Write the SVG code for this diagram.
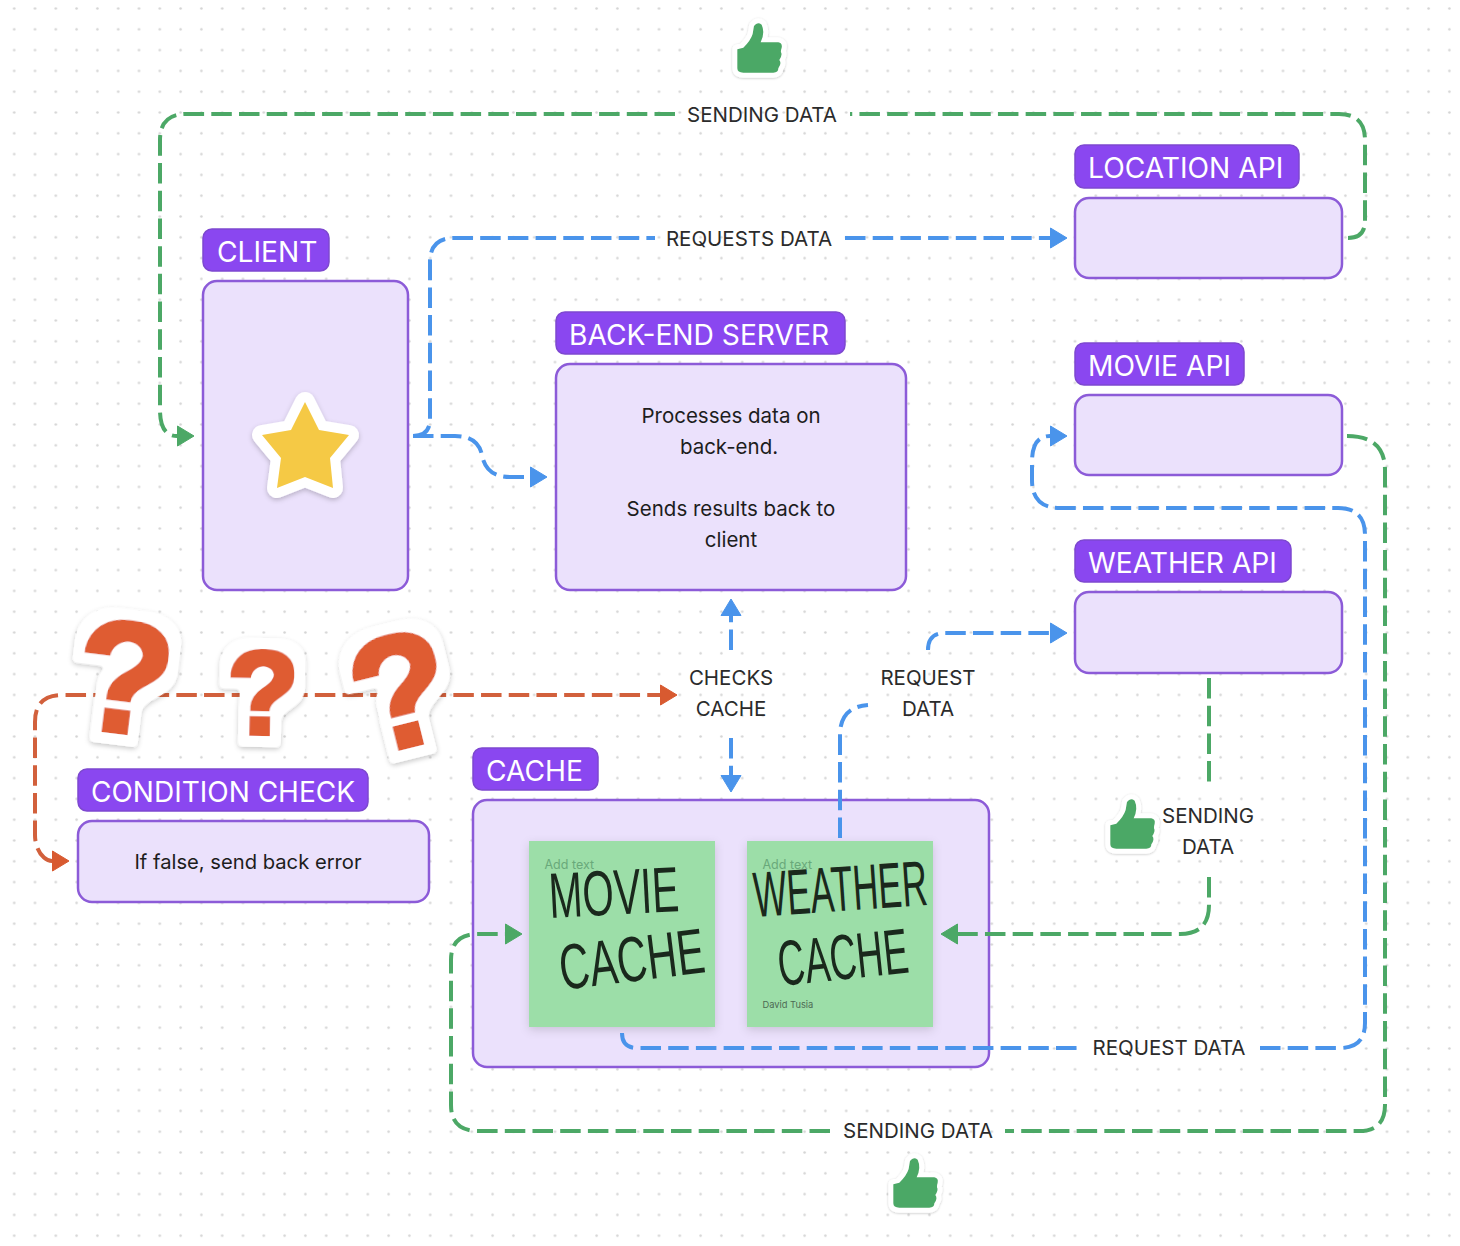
<svg xmlns="http://www.w3.org/2000/svg" width="1460" height="1246" viewBox="0 0 1460 1246">
<style>
text{font-family:Inter,"Liberation Sans",sans-serif}
.box{fill:#ebe1fc;stroke:#8c5bd8;stroke-width:2.5}
.tag{fill:#8a47f0;stroke:#7d48d0;stroke-width:1.5}
.tagt{fill:#fff;font-size:28.2px}
.lab{fill:#2b2b2b;font-size:20.5px;text-anchor:middle}
.body{fill:#1d1d1d;font-size:20.5px;text-anchor:middle}
.c{fill:none;stroke-width:4;stroke-dasharray:20.5 7.2}
.g{stroke:#4ca866}.b{stroke:#4a94eb}.o{stroke:#d2603c}
.sticky{fill:#9cdea8;filter:url(#softer)}
.hand{fill:#1a281c;font-family:"Liberation Sans",sans-serif;font-size:64px}
.add{fill:#69a97a;font-size:12.5px}
.q{fill:#df5c30;font-family:"Liberation Sans",sans-serif;font-weight:700;text-anchor:middle;filter:url(#qf)}
</style>
<defs>
<pattern id="dots" x="3.8" y="-1.9" width="20.8" height="20.8" patternUnits="userSpaceOnUse"><circle cx="10.4" cy="10.4" r="1.25" fill="#d4d4d4"/></pattern>
<filter id="shadow" x="-30%" y="-30%" width="160%" height="160%"><feDropShadow dx="0" dy="2" stdDeviation="2.5" flood-color="#000" flood-opacity=".22"/></filter>
<filter id="softer" x="-20%" y="-20%" width="140%" height="140%"><feDropShadow dx="0" dy="3" stdDeviation="5" flood-color="#000" flood-opacity=".14"/></filter>
<filter id="qf" x="-60%" y="-40%" width="220%" height="180%">
<feMorphology in="SourceAlpha" operator="dilate" radius="1.8" result="core"/>
<feFlood flood-color="#df5c30"/><feComposite in2="core" operator="in" result="orange"/>
<feMorphology in="SourceAlpha" operator="dilate" radius="13"/><feGaussianBlur stdDeviation="2.5"/>
<feComponentTransfer result="halo"><feFuncA type="linear" slope="8" intercept="-3.5"/></feComponentTransfer>
<feFlood flood-color="#fff"/><feComposite in2="halo" operator="in" result="white"/>
<feDropShadow in="white" dx="0" dy="2" stdDeviation="2.5" flood-color="#000" flood-opacity=".22" result="ws"/>
<feMerge><feMergeNode in="ws"/><feMergeNode in="orange"/></feMerge>
</filter>
<marker id="ag" markerUnits="userSpaceOnUse" markerWidth="20" markerHeight="24" refX="1" refY="12" orient="auto"><path d="M1.500,2 L18,12 L1.500,22Z" fill="#4ca866" stroke="#4ca866" stroke-linejoin="round"/></marker>
<marker id="ab" markerUnits="userSpaceOnUse" markerWidth="20" markerHeight="24" refX="1" refY="12" orient="auto"><path d="M1.500,2 L18,12 L1.500,22Z" fill="#4a94eb" stroke="#4a94eb" stroke-linejoin="round"/></marker>
<marker id="ao" markerUnits="userSpaceOnUse" markerWidth="20" markerHeight="24" refX="1" refY="12" orient="auto-start-reverse"><path d="M1.500,2 L18,12 L1.500,22Z" fill="#d85a30" stroke="#d85a30" stroke-linejoin="round"/></marker>
<g id="thumb"><path d="M82,118 L100,113 Q122,92 128,72 L132,48 Q142,34 155,44 Q166,68 152,97 L205,97 Q218,100 215,113 Q212,122 213,127 Q218,135 208,150 Q216,160 205,175 Q205,188 190,188 L100,188 Q82,188 82,175Z" fill="#4ca866" stroke="#fff" stroke-width="30" stroke-linejoin="round" paint-order="stroke" filter="url(#shadow)"/></g>
</defs>
<rect width="1460" height="1246" fill="#fff"/>
<rect width="1460" height="1246" fill="url(#dots)"/>

<g id="client"><rect class="tag" x="203" y="229" width="126" height="42" rx="9"/><text class="tagt" x="217" y="262">CLIENT</text><rect class="box" x="203" y="281" width="205" height="309" rx="14"/>
<path d="M305,402 L319,430 L349,435 L330,458 L333,488 L305,477 L277,488 L281,458 L262,435 L291,430Z" fill="#f5c944" stroke="#fff" stroke-width="20" stroke-linejoin="round" paint-order="stroke" filter="url(#shadow)"/></g>
<g id="backend"><rect class="tag" x="556" y="312" width="289" height="42" rx="9"/><text class="tagt" x="569" y="345">BACK-END SERVER</text><rect class="box" x="556" y="364" width="350" height="226" rx="14"/>
<text class="body" x="731" y="423">Processes data on</text><text class="body" x="729" y="454">back-end.</text><text class="body" x="731" y="516">Sends results back to</text><text class="body" x="731" y="547">client</text></g>
<g id="location-api"><rect class="tag" x="1075" y="145" width="224" height="43" rx="9"/><text class="tagt" x="1088" y="178">LOCATION API</text><rect class="box" x="1075" y="198" width="267" height="80" rx="14"/></g>
<g id="movie-api"><rect class="tag" x="1075" y="343" width="169" height="42" rx="9"/><text class="tagt" x="1088" y="376">MOVIE API</text><rect class="box" x="1075" y="395" width="267" height="80" rx="14"/></g>
<g id="weather-api"><rect class="tag" x="1075" y="540" width="216" height="42" rx="9"/><text class="tagt" x="1088" y="573">WEATHER API</text><rect class="box" x="1075" y="592" width="267" height="81" rx="14"/></g>
<g id="condition-check"><rect class="tag" x="78" y="769" width="290" height="42" rx="9"/><text class="tagt" x="91" y="802" style="font-size:28px">CONDITION CHECK</text><rect class="box" x="78" y="821" width="351" height="81" rx="14"/><text class="body" x="248" y="869" style="font-size:20.2px">If false, send back error</text></g>
<g id="cache"><rect class="tag" x="473" y="748" width="125" height="42" rx="9"/><text class="tagt" x="486" y="781">CACHE</text><rect class="box" x="473" y="800" width="516" height="267" rx="14"/>
<g id="movie-cache"><rect class="sticky" x="529" y="841" width="186" height="186"/><text class="add" x="544.500" y="869">Add text</text>
<text class="hand" transform="translate(550,918) rotate(-3)" textLength="130" lengthAdjust="spacingAndGlyphs">MOVIE</text>
<text class="hand" transform="translate(562,990) rotate(-7)" textLength="146" lengthAdjust="spacingAndGlyphs">CACHE</text></g>
<g id="weather-cache"><rect class="sticky" x="747" y="841" width="186" height="186"/><text class="add" x="762.500" y="869">Add text</text>
<text class="hand" transform="translate(755,917) rotate(-4)" textLength="174" lengthAdjust="spacingAndGlyphs">WEATHER</text>
<text class="hand" transform="translate(780,986) rotate(-6)" textLength="131" lengthAdjust="spacingAndGlyphs">CACHE</text><text x="762.500" y="1008" fill="#4c6a54" font-size="9.300">David Tusia</text></g></g>

<g id="connectors">
<path class="c g" marker-end="url(#ag)" d="M1348,238 Q1365,238 1365,221 V140 Q1365,114 1339,114 H850 M675,114 H186 Q160,114 160,140 V410 Q160,436 177,436"/>
<path class="c b" marker-end="url(#ab)" d="M413,436 Q430,436 430,419 V262 Q430,238 454,238 H655 M845,238 H1050"/>
<path class="c b" marker-end="url(#ab)" d="M413,436 H455 Q478,436 482,455 Q486,477 510,477 H530"/>
<path class="c b" marker-end="url(#ab)" d="M731,650 V616"/>
<path class="c b" marker-end="url(#ab)" d="M731,738 V775"/>
<path class="c o" marker-start="url(#ao)" marker-end="url(#ao)" d="M52,861 C44,861 35,850 35,835 V722 Q35,695 62,695 H660"/>
<path class="c b" d="M840,838 V735 Q840,707 868,705"/>
<path class="c b" marker-end="url(#ab)" d="M928,650 Q928,633 945,633 H1050"/>
<path class="c g" marker-end="url(#ag)" d="M1209,678 V787 M1209,877 V905 Q1209,934 1180,934 H958"/>
<path class="c b" marker-end="url(#ab)" d="M622,1033 Q622,1048 637,1048 H1082 M1260,1048 H1340 Q1365,1048 1365,1023 V535 Q1365,508 1338,508 H1060 Q1032,508 1032,480 V462 Q1032,436 1050,436"/>
<path class="c g" marker-end="url(#ag)" d="M1347,436 Q1385,436 1385,470 V1105 Q1385,1131 1359,1131 H1005 M830,1131 H478 Q451,1131 451,1105 V960 Q451,934 478,934 H505"/>
</g>

<g id="labels">
<text class="lab" x="762" y="122">SENDING DATA</text>
<text class="lab" x="749" y="246">REQUESTS DATA</text>
<text class="lab" x="731" y="685">CHECKS</text><text class="lab" x="731" y="716">CACHE</text>
<text class="lab" x="928" y="685">REQUEST</text><text class="lab" x="928" y="716">DATA</text>
<text class="lab" x="1208" y="823">SENDING</text><text class="lab" x="1208" y="854">DATA</text>
<text class="lab" x="1169" y="1055">REQUEST DATA</text>
<text class="lab" x="918" y="1138">SENDING DATA</text>
</g>

<g id="stickers">
<text class="q" font-size="158" transform="translate(118,732) rotate(7)">?</text>
<text class="q" font-size="118" transform="translate(262,734) rotate(1)">?</text>
<text class="q" font-size="160" transform="translate(414,745) rotate(-14)">?</text>
</g>
<use id="thumb-top" href="#thumb" transform="translate(710,10) scale(.3333)"/>
<use id="thumb-weather" href="#thumb" transform="translate(1083,786) scale(.3333)"/>
<use id="thumb-bottom" href="#thumb" transform="translate(866,1145) scale(.3333)"/>
</svg>
